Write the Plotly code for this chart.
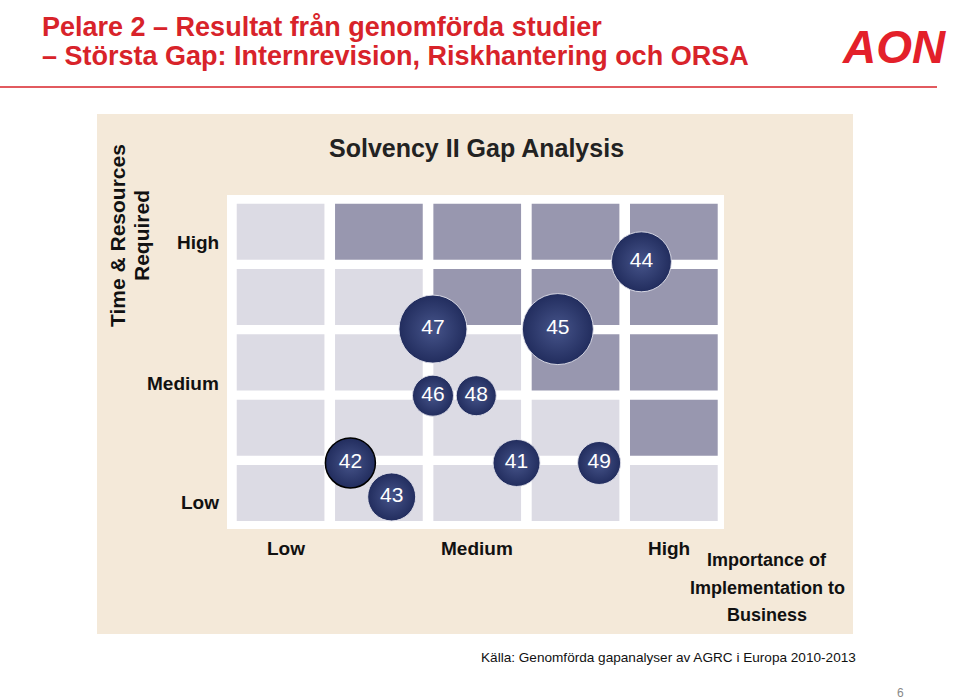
import plotly.graph_objects as go

# ---------------- data ----------------
ids = ["44", "47", "45", "46", "48", "42", "43", "41", "49"]
importance = [4.67, 2.55, 3.82, 2.55, 2.99, 1.71, 2.13, 3.40, 4.24]
resources = [4.54, 3.51, 3.51, 2.49, 2.49, 1.46, 0.94, 1.46, 1.46]
bubble_size = [60, 68, 71, 41, 40, 50, 48, 47, 43]

# shade level of grid cells: rows from bottom (Low) to top (High), columns Low..High
cell_level = [
    [0, 0, 0, 0, 0],
    [0, 0, 0, 0, 1],
    [0, 0, 0, 1, 1],
    [0, 0, 1, 1, 1],
    [0, 1, 1, 1, 1],
]
level_labels = ["Low", "Medium", "High"]
x_label_pos = [1.06, 3.0, 4.95]
y_label_pos = [0.85, 2.68, 4.83]

W, H = 960, 700
def px(x):
    return x / W
def py(y):
    return 1 - y / H

ARIAL = "Liberation Sans, Arial, sans-serif"

fig = go.Figure()

shapes = []
# beige panel
shapes.append(dict(type="rect", xref="paper", yref="paper", x0=px(97), x1=px(853), y0=py(634), y1=py(114),
                   fillcolor="#F4E9D9", line=dict(width=0), layer="below"))
# white plot area
shapes.append(dict(type="rect", xref="paper", yref="paper", x0=px(227), x1=px(724), y0=py(529), y1=py(195),
                   fillcolor="#FFFFFF", line=dict(width=0), layer="below"))
# grid cells
colors = {0: "#DCDBE4", 1: "#9897AF"}
hw, hh = 0.446, 0.429
for r, row in enumerate(cell_level):
    for c, lv in enumerate(row):
        x, y = c + 1, r + 1
        shapes.append(dict(type="rect", xref="x", yref="y", x0=x - hw, x1=x + hw, y0=y - hh, y1=y + hh,
                           fillcolor=colors[lv], line=dict(width=0), layer="below"))
# red rule under title
shapes.append(dict(type="line", xref="paper", yref="paper", x0=0, x1=px(937), y0=py(87), y1=py(87),
                   line=dict(color="#D8232A", width=1.5)))

line_colors = ["#000000" if i == "42" else "rgba(225,225,235,0.9)" for i in ids]
line_widths = [1.5 if i == "42" else 1 for i in ids]

fig.add_trace(go.Scatter(
    x=importance, y=resources, mode="markers+text", text=ids,
    textposition="middle center",
    textfont=dict(color="white", size=21, family=ARIAL),
    marker=dict(size=bubble_size, color="#222D5E",
                gradient=dict(type="radial", color="#46548A"),
                line=dict(color=line_colors, width=line_widths), opacity=1),
    hoverinfo="text", showlegend=False,
))

ann = []
def note(text, x, y, size, color="#111111", xanchor="center", xref="paper", yref="paper", family=ARIAL, angle=0):
    ann.append(dict(text=text, x=x, y=y, xref=xref, yref=yref, xanchor=xanchor, yanchor="middle",
                    showarrow=False, textangle=angle, font=dict(family=family, size=size, color=color)))

# title
note("<b>Pelare 2 – Resultat från genomförda studier</b>", px(40), py(27), 27, "#D8232A", "left")
note("<b>– Största Gap: Internrevision, Riskhantering och ORSA</b>", px(40), py(56), 27, "#D8232A", "left")
# logo
note("<b><i>AON</i></b>", px(894), py(47), 46, "#E3202A")
# chart title
note("<b>Solvency II Gap Analysis</b>", px(476), py(148), 25, "#222222")
# y axis title
note("<b>Time & Resources</b>", px(117), py(236), 21, angle=-90)
note("<b>Required</b>", px(141), py(236), 21, angle=-90)
# y level labels
for lab, yv in zip(level_labels, y_label_pos):
    note("<b>" + lab + "</b>", px(221), yv, 19, xanchor="right", yref="y")
# x level labels
for lab, xv in zip(level_labels, x_label_pos):
    note("<b>" + lab + "</b>", xv, py(548), 19, xref="x")
# x axis title
for line_txt, yy in zip(["Importance of", "Implementation to", "Business"], [560, 588, 615]):
    note("<b>" + line_txt + "</b>", px(767), py(yy), 18)
# source
note("Källa: Genomförda gapanalyser av AGRC i Europa 2010-2013", px(858), py(657), 13.6, xanchor="right")
note("6", px(900), py(693), 12, "#888888")

fig.update_layout(
    width=W, height=H, margin=dict(l=0, r=0, t=0, b=0),
    paper_bgcolor="white", plot_bgcolor="rgba(0,0,0,0)",
    shapes=shapes, annotations=ann,
    xaxis=dict(domain=[px(227), px(724)], range=[0.455, 5.51], visible=False, fixedrange=True),
    yaxis=dict(domain=[py(529), py(195)], range=[0.449, 5.563], visible=False, fixedrange=True),
)

fig.write_html("out.html")
